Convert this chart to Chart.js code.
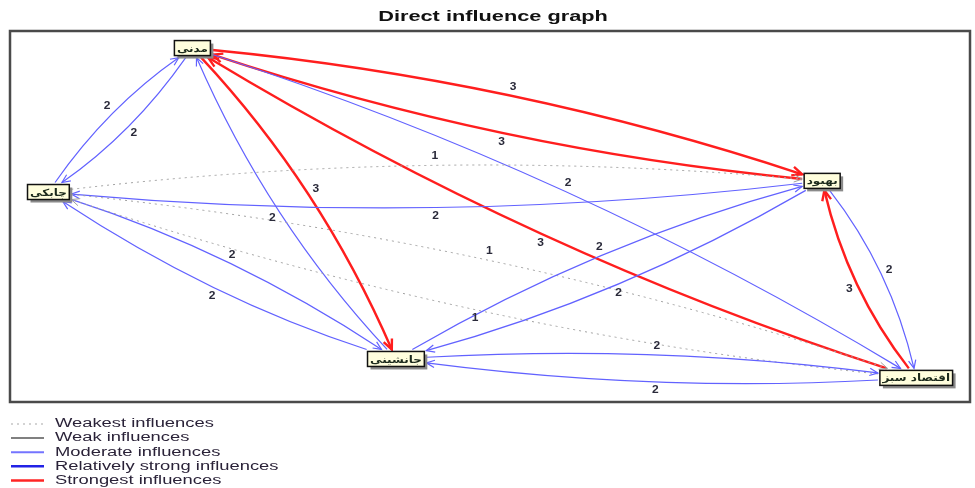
<!DOCTYPE html>
<html>
<head>
<meta charset="utf-8">
<script src="https://cdn.jsdelivr.net/npm/chart.js@4.4.1/dist/chart.umd.min.js"></script>
<style>
  html, body { margin: 0; padding: 0; background: #fff; }
</style>
</head>
<body>
<canvas id="graph" width="975" height="488"></canvas>
<script>
// variables (nodes) and their place on the map, 0-100 each way
const variables = ['مدنی', 'چابکی', 'بهبود', 'جانشینی', 'اقتصاد سبز'];
const mapX = [19.0, 4.0, 84.6, 40.2, 94.4];
const mapY = [4.6, 43.4, 40.4, 88.4, 93.5];

// direct influences: from -> to, intensity 1..3
const influenceFrom  = [0, 1, 0, 2, 0, 3, 0, 4, 1, 2, 1, 3, 1, 4, 3, 2, 3, 4, 2, 4];
const influenceTo    = [1, 0, 2, 0, 3, 0, 4, 0, 2, 1, 3, 1, 4, 1, 2, 3, 4, 3, 4, 2];
const influenceValue = [2, 2, 3, 3, 3, 2, 2, 3, 1, 2, 2, 2, 1, 1, 2, 2, 2, 2, 2, 3];

const legendLabels = ['Weakest influences', 'Weak influences', 'Moderate influences',
  'Relatively strong influences', 'Strongest influences'];

// line look for each legend level
const levelStyles = [
  { color: '#a8a8a8', width: 1.2, dash: [2, 4] },
  { color: '#808080', width: 2, dash: [] },
  { color: '#7474ff', width: 2, dash: [] },
  { color: '#2222e6', width: 2.5, dash: [] },
  { color: '#ff2424', width: 2.5, dash: [] }
];
// graph lines are a bit thinner than the legend samples
const edgeStyles = {
  1: { color: '#a0a0a0', width: 1, dash: [2, 4], level: 0 },
  2: { color: '#6262ff', width: 1.2, dash: [], level: 2 },
  3: { color: '#ff1e1e', width: 2.4, dash: [], level: 4 }
};
// how far each pair of curves bows away from the straight line (px)
const pairBend = { '0-1': 9, '0-2': 18, '0-3': 16, '0-4': 23, '1-2': 20,
  '1-3': 13, '1-4': 24, '2-3': 15, '2-4': 12, '3-4': 12 };

const stretch = 1.45; // the original picture is drawn wide

function stretchedText(ctx, text, x, y, sx) {
  ctx.save();
  ctx.translate(x, y);
  ctx.scale(sx, 1);
  ctx.fillText(text, 0, 0);
  ctx.restore();
}

function clipToBox(cx, cy, ux, uy, hw, hh) {
  const len = Math.hypot(ux, uy);
  ux /= len; uy /= len;
  const t = Math.min(Math.abs(ux) > 1e-6 ? hw / Math.abs(ux) : 1e9,
                     Math.abs(uy) > 1e-6 ? hh / Math.abs(uy) : 1e9);
  return [cx + ux * t, cy + uy * t];
}

const graphPlugin = {
  id: 'influenceGraph',
  afterDatasetsDraw(chart) {
    const { ctx, chartArea: a, scales: { x, y } } = chart;
    ctx.save();

    // title
    ctx.fillStyle = '#111';
    ctx.font = 'bold 15px "Liberation Sans", Arial, sans-serif';
    ctx.textAlign = 'center';
    ctx.textBaseline = 'middle';
    stretchedText(ctx, 'Direct influence graph', (a.left + a.right) / 2 + 3, 17, stretch);

    // frame
    ctx.strokeStyle = '#4a4a4a';
    ctx.lineWidth = 2.5;
    ctx.strokeRect(a.left, a.top, a.right - a.left, a.bottom - a.top);

    // node boxes
    ctx.font = 'bold 10px "DejaVu Sans", sans-serif';
    const boxes = variables.map((name, i) => {
      const w = ctx.measureText(name).width * 1.2 + 5;
      return { cx: x.getPixelForValue(mapX[i]), cy: y.getPixelForValue(mapY[i]), hw: w / 2, hh: 7.5 };
    });

    // influences
    influenceFrom.forEach((f, k) => {
      const t = influenceTo[k];
      const st = edgeStyles[influenceValue[k]];
      const A = boxes[f], B = boxes[t];
      const dx = B.cx - A.cx, dy = B.cy - A.cy, d = Math.hypot(dx, dy);
      const nx = dy / d, ny = -dx / d;
      const bend = pairBend[Math.min(f, t) + '-' + Math.max(f, t)];
      const qx = (A.cx + B.cx) / 2 + nx * bend * 2;
      const qy = (A.cy + B.cy) / 2 + ny * bend * 2;
      const p0 = clipToBox(A.cx, A.cy, qx - A.cx, qy - A.cy, A.hw + 2, A.hh + 2);
      const p2 = clipToBox(B.cx, B.cy, qx - B.cx, qy - B.cy, B.hw + 2, B.hh + 2);

      ctx.strokeStyle = st.color;
      ctx.lineWidth = st.width;
      ctx.setLineDash(st.dash);
      ctx.beginPath();
      ctx.moveTo(p0[0], p0[1]);
      ctx.quadraticCurveTo(qx, qy, p2[0], p2[1]);
      ctx.stroke();

      // open arrow head at the target
      ctx.setLineDash([]);
      const ang = Math.atan2(p2[1] - qy, p2[0] - qx);
      const L = st.width > 2 ? 11 : 9;
      ctx.beginPath();
      ctx.moveTo(p2[0] - L * Math.cos(ang - 0.42), p2[1] - L * Math.sin(ang - 0.42));
      ctx.lineTo(p2[0], p2[1]);
      ctx.lineTo(p2[0] - L * Math.cos(ang + 0.42), p2[1] - L * Math.sin(ang + 0.42));
      ctx.stroke();
    });

    // intensity labels
    ctx.fillStyle = '#2a2a3a';
    ctx.font = 'bold 10px "Liberation Sans", Arial, sans-serif';
    influenceFrom.forEach((f, k) => {
      const t = influenceTo[k];
      const A = boxes[f], B = boxes[t];
      const dx = B.cx - A.cx, dy = B.cy - A.cy, d = Math.hypot(dx, dy);
      const nx = dy / d, ny = -dx / d;
      const bend = pairBend[Math.min(f, t) + '-' + Math.max(f, t)] + 10;
      stretchedText(ctx, String(influenceValue[k]),
        (A.cx + B.cx) / 2 + nx * bend, (A.cy + B.cy) / 2 + ny * bend, 1.2);
    });

    // boxes on top
    ctx.font = 'bold 10px "DejaVu Sans", sans-serif';
    boxes.forEach((b, i) => {
      ctx.fillStyle = '#8a8a8a';
      ctx.fillRect(b.cx - b.hw + 3, b.cy - b.hh + 3, b.hw * 2, b.hh * 2);
      ctx.fillStyle = '#fffedd';
      ctx.fillRect(b.cx - b.hw, b.cy - b.hh, b.hw * 2, b.hh * 2);
      ctx.strokeStyle = '#111';
      ctx.lineWidth = 1.5;
      ctx.strokeRect(b.cx - b.hw, b.cy - b.hh, b.hw * 2, b.hh * 2);
      ctx.fillStyle = '#1c2a1c';
      stretchedText(ctx, variables[i], b.cx, b.cy + 1, 1.2);
    });

    // legend
    ctx.textAlign = 'left';
    ctx.font = '12px "Liberation Sans", Arial, sans-serif';
    legendLabels.forEach((label, i) => {
      const ly = 424 + i * 14.1;
      const s = levelStyles[i];
      ctx.strokeStyle = s.color;
      ctx.lineWidth = s.width;
      ctx.setLineDash(s.dash);
      ctx.beginPath();
      ctx.moveTo(11, ly);
      ctx.lineTo(44, ly);
      ctx.stroke();
      ctx.setLineDash([]);
      ctx.fillStyle = '#2a2238';
      stretchedText(ctx, label, 55, ly, 1.53);
    });

    ctx.restore();
  }
};

new Chart(document.getElementById('graph'), {
  type: 'scatter',
  data: {
    datasets: [{
      data: variables.map((v, i) => ({ x: mapX[i], y: mapY[i] })),
      pointRadius: 0
    }]
  },
  options: {
    responsive: false,
    animation: false,
    devicePixelRatio: 1,
    layout: { padding: { left: 10, top: 31, right: 5, bottom: 86 } },
    scales: {
      x: { display: false, min: 0, max: 100 },
      y: { display: false, min: 0, max: 100, reverse: true }
    },
    plugins: { legend: { display: false }, title: { display: false }, tooltip: { enabled: false } }
  },
  plugins: [graphPlugin]
});
</script>
</body>
</html>
